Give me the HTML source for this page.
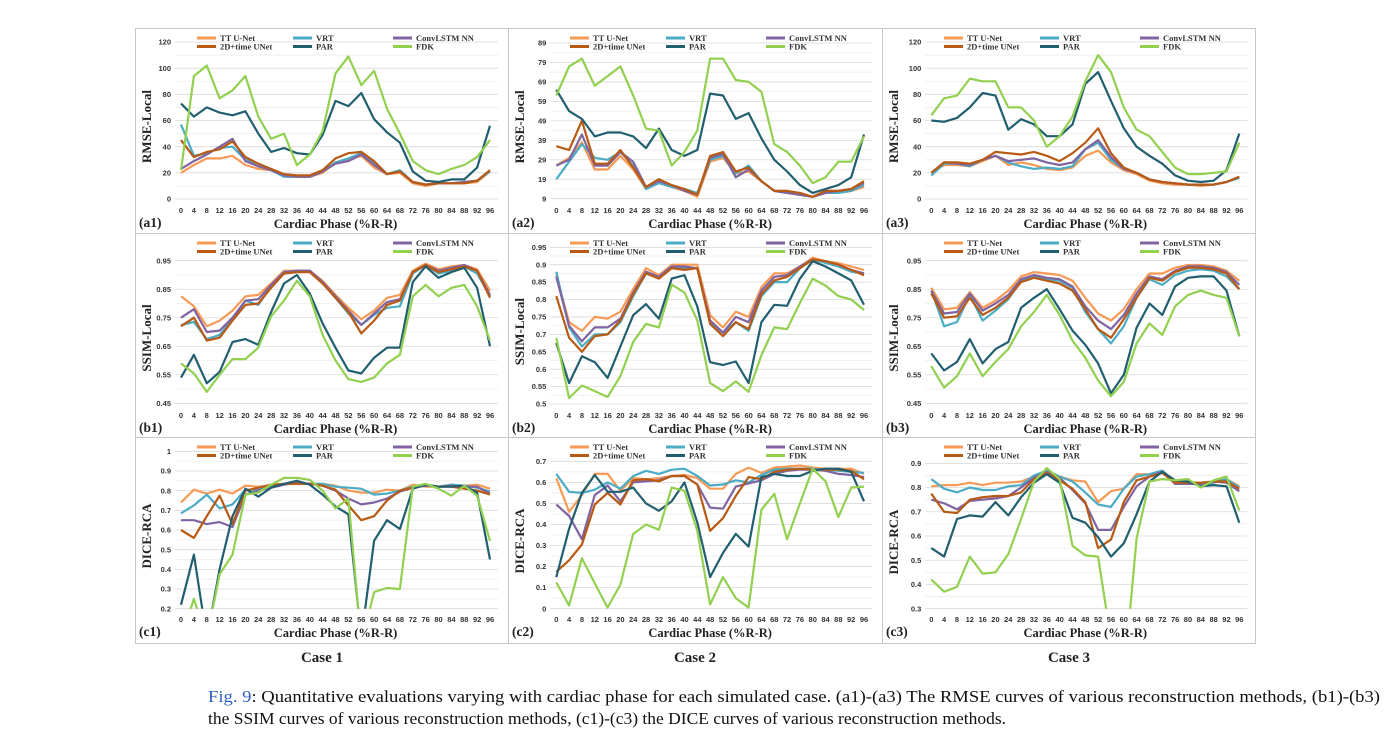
<!DOCTYPE html>
<html><head><meta charset="utf-8"><style>
html,body{margin:0;padding:0;background:#fff;}
svg{display:block;}
.tk{font-family:"Liberation Sans",sans-serif;font-weight:bold;font-size:7.5px;fill:#333;}
.ttl{font-family:"Liberation Serif",serif;font-weight:bold;fill:#222;}
.lg{font-family:"Liberation Serif",serif;font-weight:bold;font-size:8.5px;fill:#333;}
</style></head><body>
<svg id="fig" width="1395" height="737" viewBox="0 0 1395 737" xmlns="http://www.w3.org/2000/svg">
<g id="frame" stroke="#c8c8c8" stroke-width="1" fill="none">
<rect x="135.5" y="28.5" width="1120" height="615"/>
<line x1="508.5" y1="28" x2="508.5" y2="643"/><line x1="882.5" y1="28" x2="882.5" y2="643"/>
<line x1="135" y1="233.5" x2="1255" y2="233.5"/><line x1="135" y1="437.5" x2="1255" y2="437.5"/>
</g>
<text class="ttl" x="322" y="662" font-size="15" text-anchor="middle">Case 1</text>
<text class="ttl" x="695" y="662" font-size="15" text-anchor="middle">Case 2</text>
<text class="ttl" x="1069" y="662" font-size="15" text-anchor="middle">Case 3</text>
<text x="208" y="702" font-family="Liberation Serif, serif" font-size="16.5" fill="#111" textLength="1172" lengthAdjust="spacingAndGlyphs"><tspan fill="#2f5fc4">Fig. 9</tspan>: Quantitative evaluations varying with cardiac phase for each simulated case. (a1)-(a3) The RMSE curves of various reconstruction methods, (b1)-(b3)</text>
<text x="208" y="724" font-family="Liberation Serif, serif" font-size="16.5" fill="#111" textLength="798" lengthAdjust="spacingAndGlyphs">the SSIM curves of various reconstruction methods, (c1)-(c3) the DICE curves of various reconstruction methods.</text>
</svg>
<script>
const phases=[0,4,8,12,16,20,24,28,32,36,40,44,48,52,56,60,64,68,72,76,80,84,88,92,96];
const seriesNames=["TT U-Net","VRT","ConvLSTM NN","2D+time UNet","PAR","FDK"];
// a1
const a1_tt=[20,26,31,31,33,26,23,22,18,17,17,20,28,30,33,24,19,20,12,10,12,12,12,13,21];
const a1_vrt=[57,33,35,39,40,30,27,22,17,17,17,21,28,31,35,27,19,22,13,11,12,12,13,14,21];
const a1_conv=[23,29,34,40,46,29,25,22,18,17,17,21,27,29,34,26,19,21,13,11,12,12,13,14,22];
const a1_2d=[45,32,36,38,44,32,27,23,19,18,18,22,31,35,36,29,19,21,13,11,12,12,12,14,22];
const a1_par=[73,63,70,66,64,67,50,36,39,35,34,49,75,71,81,61,51,43,21,14,13,15,15,24,56];
const a1_fdk=[22,94,102,77,83,94,63,46,50,26,34,52,96,109,87,98,69,50,29,22,19,23,26,32,45];
// a2
const a2_tt=[26,30,38,24,24,31,24,14,17,15,13,10,28,30,22,23,18,13,12,11,10,12,12,13,15];
const a2_vrt=[19,28,37,30,29,33,26,14,17,15,14,12,29,31,22,26,18,13,12,11,10,12,12,13,16];
const a2_conv=[26,29,42,26,26,33,28,15,18,16,13,11,30,32,20,24,18,13,12,11,10,12,13,14,17];
const a2_2d=[36,34,49,27,27,34,25,15,19,16,14,11,31,33,23,25,18,13,13,12,10,13,13,14,18];
const a2_par=[65,54,50,41,43,43,41,35,45,34,31,34,63,62,50,53,40,29,23,16,12,14,16,20,42];
const a2_fdk=[62,77,81,67,72,77,62,45,44,26,33,44,81,81,70,69,64,37,33,26,17,20,28,28,41];
// a3
const a3_tt=[20,26,26,25,29,33,26,28,26,23,22,24,33,37,28,22,19,14,12,11,11,10,11,13,17];
const a3_vrt=[18,27,27,25,30,33,28,25,23,24,23,25,38,43,30,23,20,15,13,12,11,11,11,13,16];
const a3_conv=[20,28,27,26,30,33,29,30,31,28,26,28,38,45,32,23,20,15,13,12,11,11,11,13,17];
const a3_2d=[20,28,28,27,30,36,35,34,36,33,29,35,43,54,35,24,20,15,13,12,11,11,11,13,17];
const a3_par=[60,59,62,70,81,79,53,61,57,48,48,57,88,97,75,54,40,33,27,18,14,13,14,22,50];
const a3_fdk=[64,77,79,92,90,90,70,70,60,40,48,63,90,110,97,70,53,48,36,24,19,19,20,21,43];
// b1
const b1_tt=[.825,.79,.72,.74,.775,.825,.83,.87,.915,.915,.915,.88,.83,.785,.745,.775,.82,.83,.915,.94,.92,.93,.935,.92,.845];
const b1_vrt=[.725,.735,.675,.69,.745,.81,.795,.86,.91,.915,.915,.875,.82,.765,.725,.76,.785,.79,.905,.935,.905,.915,.93,.905,.825];
const b1_conv=[.75,.78,.70,.705,.75,.81,.815,.865,.91,.915,.915,.875,.825,.775,.725,.765,.805,.815,.91,.935,.915,.925,.935,.915,.83];
const b1_2d=[.72,.75,.67,.68,.74,.795,.80,.855,.905,.91,.91,.87,.82,.77,.695,.74,.795,.81,.91,.935,.91,.92,.93,.915,.82];
const b1_par=[.54,.62,.52,.56,.665,.675,.655,.77,.87,.90,.835,.73,.645,.565,.555,.61,.645,.645,.875,.93,.89,.91,.925,.855,.65];
const b1_fdk=[.59,.555,.49,.55,.605,.605,.645,.755,.81,.88,.825,.69,.60,.535,.525,.54,.59,.62,.825,.865,.825,.855,.865,.79,.67];
// b2
const b2_tt=[.87,.735,.71,.75,.745,.765,.83,.89,.87,.90,.90,.90,.755,.72,.765,.75,.835,.875,.875,.895,.92,.91,.905,.895,.885];
const b2_vrt=[.88,.72,.665,.70,.70,.735,.81,.875,.865,.895,.89,.89,.735,.705,.735,.71,.81,.85,.85,.89,.915,.905,.895,.88,.875];
const b2_conv=[.865,.725,.68,.72,.72,.745,.82,.88,.865,.895,.895,.89,.74,.705,.75,.735,.825,.865,.87,.895,.915,.91,.90,.885,.875];
const b2_2d=[.81,.69,.65,.695,.70,.74,.815,.875,.86,.89,.885,.89,.73,.695,.735,.715,.815,.855,.865,.89,.915,.91,.90,.885,.87];
const b2_par=[.675,.56,.637,.62,.575,.665,.755,.787,.745,.86,.87,.78,.62,.612,.622,.56,.735,.785,.782,.86,.91,.895,.875,.855,.785];
const b2_fdk=[.69,.517,.553,.537,.52,.58,.678,.73,.72,.843,.82,.74,.56,.537,.565,.535,.64,.72,.715,.79,.86,.84,.81,.80,.77];
// b3
const b3_tt=[.855,.78,.785,.84,.785,.81,.845,.895,.91,.905,.90,.88,.82,.765,.74,.78,.85,.905,.905,.925,.935,.935,.93,.915,.88];
const b3_vrt=[.845,.72,.735,.83,.74,.775,.815,.88,.895,.885,.88,.855,.77,.71,.66,.72,.82,.885,.865,.90,.915,.92,.915,.895,.85];
const b3_conv=[.845,.765,.77,.835,.775,.80,.83,.885,.90,.89,.885,.86,.79,.74,.71,.76,.835,.895,.885,.915,.93,.93,.925,.91,.865];
const b3_2d=[.835,.75,.755,.82,.76,.785,.82,.875,.89,.88,.87,.845,.78,.71,.68,.745,.82,.89,.88,.91,.925,.925,.92,.905,.85];
const b3_par=[.625,.565,.595,.675,.59,.64,.665,.785,.82,.85,.78,.705,.655,.59,.485,.55,.715,.80,.76,.86,.89,.895,.895,.845,.685];
const b3_fdk=[.58,.505,.545,.625,.545,.595,.64,.72,.77,.83,.76,.67,.61,.53,.475,.525,.66,.73,.69,.79,.83,.845,.83,.82,.685];
// c1
const c1_tt=[.74,.805,.785,.805,.785,.825,.82,.825,.835,.835,.835,.835,.825,.80,.79,.79,.805,.80,.83,.82,.82,.83,.825,.83,.81];
const c1_vrt=[.685,.725,.78,.71,.73,.805,.805,.82,.835,.84,.835,.835,.82,.815,.81,.78,.785,.80,.82,.825,.82,.83,.825,.815,.795];
const c1_conv=[.65,.65,.63,.64,.615,.78,.80,.815,.83,.84,.835,.825,.80,.76,.73,.74,.76,.795,.815,.825,.82,.825,.82,.82,.785];
const c1_2d=[.60,.56,.67,.775,.63,.80,.815,.83,.835,.835,.835,.825,.805,.725,.65,.67,.75,.80,.815,.83,.82,.82,.81,.80,.78];
const c1_par=[.22,.475,.05,.40,.67,.81,.77,.815,.835,.85,.83,.78,.72,.68,.05,.545,.65,.605,.81,.83,.82,.82,.825,.79,.45];
const c1_fdk=[.05,.25,.05,.375,.475,.78,.79,.83,.865,.865,.855,.80,.71,.76,.02,.285,.305,.30,.82,.835,.81,.775,.825,.775,.545];
// c2
const c2_tt=[.62,.46,.54,.64,.64,.56,.62,.615,.62,.63,.635,.62,.57,.57,.64,.67,.645,.67,.675,.68,.67,.665,.665,.665,.64];
const c2_vrt=[.64,.555,.55,.565,.60,.57,.63,.655,.64,.66,.665,.63,.585,.59,.61,.60,.635,.66,.665,.665,.665,.66,.655,.65,.645];
const c2_conv=[.495,.44,.33,.54,.585,.51,.60,.605,.61,.63,.63,.59,.48,.475,.58,.595,.61,.64,.655,.66,.66,.655,.64,.635,.625];
const c2_2d=[.175,.23,.305,.495,.55,.495,.61,.615,.605,.63,.63,.59,.37,.43,.535,.625,.615,.65,.66,.665,.66,.66,.66,.655,.615];
const c2_par=[.15,.38,.55,.635,.555,.555,.575,.50,.465,.51,.60,.41,.15,.265,.355,.295,.625,.64,.63,.63,.655,.665,.665,.65,.51];
const c2_fdk=[.125,.015,.24,.12,.005,.115,.355,.40,.375,.575,.56,.37,.02,.15,.05,.005,.47,.545,.33,.50,.665,.605,.435,.575,.58];
// c3
const c3_tt=[.805,.81,.81,.82,.81,.82,.82,.825,.845,.87,.845,.83,.825,.74,.785,.795,.855,.855,.87,.825,.825,.815,.825,.835,.805];
const c3_vrt=[.835,.795,.78,.80,.79,.79,.805,.81,.85,.87,.845,.825,.78,.73,.72,.795,.845,.855,.87,.82,.82,.81,.82,.835,.80];
const c3_conv=[.75,.735,.71,.745,.75,.755,.765,.80,.84,.865,.84,.79,.735,.625,.625,.72,.805,.845,.865,.815,.815,.815,.825,.82,.785];
const c3_2d=[.775,.70,.695,.75,.76,.765,.765,.78,.835,.86,.83,.795,.74,.55,.585,.74,.83,.845,.86,.82,.82,.82,.825,.825,.795];
const c3_par=[.55,.515,.67,.685,.68,.74,.685,.76,.82,.855,.82,.675,.655,.595,.515,.57,.69,.825,.865,.83,.825,.805,.81,.805,.655];
const c3_fdk=[.42,.37,.39,.515,.445,.45,.525,.67,.825,.88,.835,.56,.52,.515,.17,.01,.59,.825,.835,.83,.835,.80,.83,.845,.705];
// tick labels
const rmseTicks=["0","20","40","60","80","100","120"];
const rmse2Ticks=["9","19","29","39","49","59","69","79","89"];
const ssimTicks=["0.45","0.55","0.65","0.75","0.85","0.95"];
const ssim2Ticks=["0.5","0.55","0.6","0.65","0.7","0.75","0.8","0.85","0.9","0.95"];
const dice1Ticks=["0.2","0.3","0.4","0.5","0.6","0.7","0.8","0.9","1"];
const dice2Ticks=["0","0.1","0.2","0.3","0.4","0.5","0.6","0.7"];
const dice3Ticks=["0.3","0.4","0.5","0.6","0.7","0.8","0.9"];

const colors=["#f79a55","#4bacc6","#8064a2","#b85a14","#215f70","#92d050"];
const NS="http://www.w3.org/2000/svg";
const svg=document.getElementById('fig');
function mk(tag,attrs,parent){const e=document.createElementNS(NS,tag);for(const k in attrs)e.setAttribute(k,attrs[k]);(parent||svg).appendChild(e);return e;}

const panels=[
 {id:"a1",c:0,r:0,yt:14,yb:171,ticks:rmseTicks,title:"RMSE-Local",s:[a1_tt,a1_vrt,a1_conv,a1_2d,a1_par,a1_fdk]},
 {id:"a2",c:1,r:0,yt:15,yb:170.7,ticks:rmse2Ticks,title:"RMSE-Local",s:[a2_tt,a2_vrt,a2_conv,a2_2d,a2_par,a2_fdk]},
 {id:"a3",c:2,r:0,yt:14,yb:171,ticks:rmseTicks,title:"RMSE-Local",s:[a3_tt,a3_vrt,a3_conv,a3_2d,a3_par,a3_fdk]},
 {id:"b1",c:0,r:1,yt:27.7,yb:170.3,ticks:ssimTicks,title:"SSIM-Local",s:[b1_tt,b1_vrt,b1_conv,b1_2d,b1_par,b1_fdk]},
 {id:"b2",c:1,r:1,yt:14.3,yb:171,ticks:ssim2Ticks,title:"SSIM-Local",s:[b2_tt,b2_vrt,b2_conv,b2_2d,b2_par,b2_fdk]},
 {id:"b3",c:2,r:1,yt:27.7,yb:170.3,ticks:ssimTicks,title:"SSIM-Local",s:[b3_tt,b3_vrt,b3_conv,b3_2d,b3_par,b3_fdk]},
 {id:"c1",c:0,r:2,yt:14.3,yb:171.7,ticks:dice1Ticks,title:"DICE-RCA",s:[c1_tt,c1_vrt,c1_conv,c1_2d,c1_par,c1_fdk]},
 {id:"c2",c:1,r:2,yt:24.3,yb:171.7,ticks:dice2Ticks,title:"DICE-RCA",s:[c2_tt,c2_vrt,c2_conv,c2_2d,c2_par,c2_fdk]},
 {id:"c3",c:2,r:2,yt:26.3,yb:171.7,ticks:dice3Ticks,title:"DICE-RCA",s:[c3_tt,c3_vrt,c3_conv,c3_2d,c3_par,c3_fdk]}
];
const colX=[135,508,882], rowY=[28,233,437], xL=[46,48.3,49.3], xR=[355,356,357.3];

panels.forEach(p=>{
 const ox=colX[p.c], oy=rowY[p.r];
 const g=mk('g',{transform:`translate(${ox},${oy})`});
 
 
 const vmin=parseFloat(p.ticks[0]), vmax=parseFloat(p.ticks[p.ticks.length-1]);
 const n=p.ticks.length-1, step=(p.yb-p.yt)/n;
 const y=v=>p.yb-(v-vmin)/(vmax-vmin)*(p.yb-p.yt);
 const x0=xL[p.c], x1=xR[p.c];
 const x=ph=>x0+(ph-phases[0])/(phases[phases.length-1]-phases[0])*(x1-x0);
 // gridlines
 for(let i=0;i<=n;i++){
  const yy=p.yb-i*step;
  const gl=mk('line',{x1:x0-6,x2:x1+8,y1:yy,y2:yy,stroke:'#d9d9d9','stroke-width':0.8},g);
  
  
  if(i<n){const m=mk('line',{x1:x0-6,x2:x1+8,y1:yy-step/2,y2:yy-step/2,stroke:'#ededed','stroke-width':0.8},g);
   
   }
  const t=mk('text',{x:x0-10,y:yy+2.6,'text-anchor':'end',class:'tk'},g);
  
  
  t.textContent=p.ticks[i];
 }
 phases.forEach(ph=>{
  const t=mk('text',{x:x(ph),y:185,'text-anchor':'middle',class:'tk'},g);
  
  
  t.textContent=String(ph);
 });
 const yt=mk('text',{x:0,y:0,class:'ttl','font-size':'13','text-anchor':'middle',transform:`translate(16,${(p.yt+p.yb)/2+6}) rotate(-90)`},g);
 
 
 yt.textContent=p.title;
 const xt=mk('text',{x:(x0+x1)/2,y:200,class:'ttl','font-size':'12.5','text-anchor':'middle'},g);
 
 
 xt.textContent="Cardiac Phase (%R-R)";
 const lb=mk('text',{x:4,y:199,class:'ttl','font-size':'13.5'},g);
 
 
 lb.textContent="("+p.id+")";
 // legend
 const lx=[62,158,258], lyy=[10,18.5];
 seriesNames.forEach((nm,i)=>{
  const cx=lx[i%3], cy=lyy[Math.floor(i/3)];
  const l=mk('line',{x1:cx,x2:cx+19,y1:cy,y2:cy,stroke:colors[i],'stroke-width':3},g);
  
  
  const t=mk('text',{x:cx+23,y:cy+3,class:'lg'},g);
  
  
  t.textContent=nm;
 });
 // clip + series
 const cp=mk('clipPath',{id:'clip-'+p.id},g);
 mk('rect',{x:x0-4,y:0,width:x1-x0+8,height:p.yb},cp);
 const sg=mk('g',{'clip-path':`url(#clip-${p.id})`},g);
 
 
 p.s.forEach((arr,i)=>{
  const pts=arr.map((v,k)=>x(phases[k]).toFixed(1)+','+y(v).toFixed(1)).join(' ');
  const pl=mk('polyline',{points:pts,fill:'none',stroke:colors[i],'stroke-width':2.2,'stroke-linejoin':'round'},sg);
  
  
 });
});
</script>
</body></html>
